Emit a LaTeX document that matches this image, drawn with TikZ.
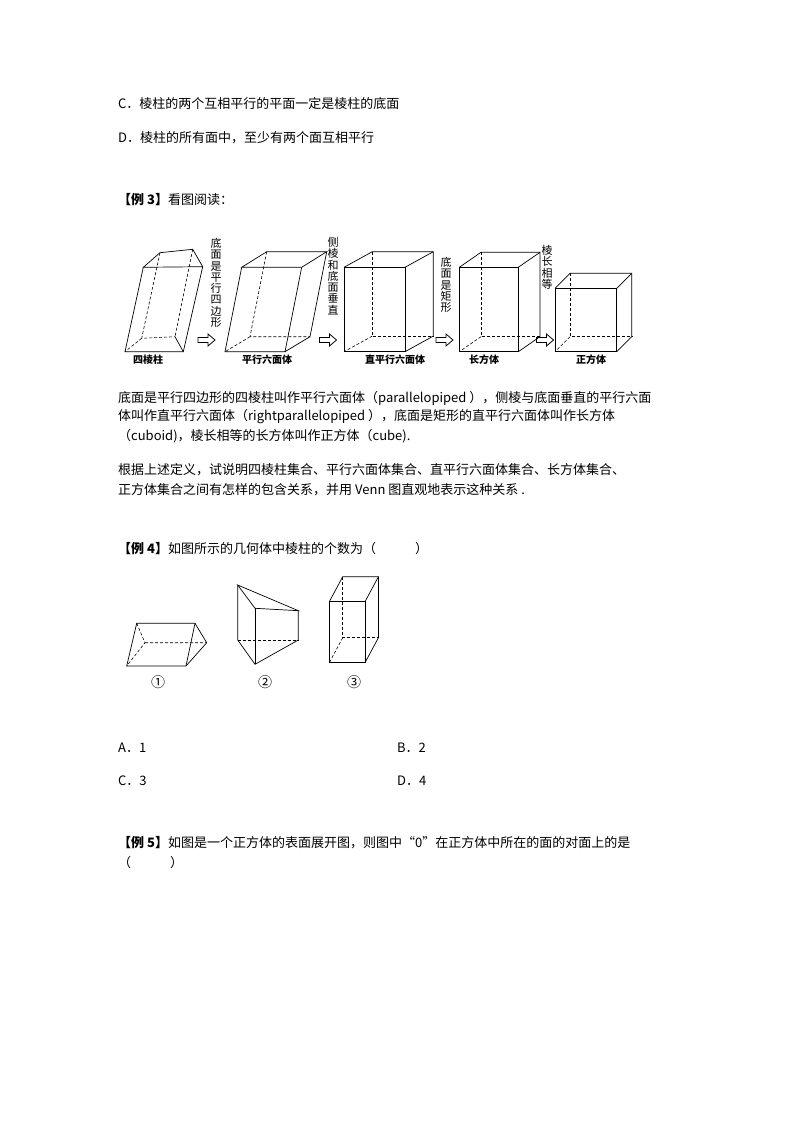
\documentclass[tikz,border=0pt]{standalone}
\usepackage{fontspec}
\setmainfont{Liberation Sans}
\newfontfamily\cjk{Noto Sans CJK SC}
\usetikzlibrary{calc}
\tikzset{
 txt/.style={anchor=west,inner sep=0pt,font=\cjk\fontsize{13}{14}\selectfont},
 vtxt/.style={inner sep=0pt,align=center,font=\cjk\fontsize{11}{11.3}\selectfont,text width=14pt},
 lab/.style={inner sep=0pt,font=\cjk\bfseries\fontsize{10}{11}\selectfont},
 ed/.style={line width=0.7pt},
 hid/.style={line width=0.6pt,dash pattern=on 3pt off 2pt},
}
\newcommand{\harrow}[2]{% left x, center y
 \draw[line width=0.8pt] (#1,#2-2.5) -- ++(10,0) -- ++(0,-3.5) -- ++(7,6) -- ++(-7,6) -- ++(0,-3.5) -- ++(-10,0) -- cycle;}
\newcommand{\boxsolid}[6]{% x1 y1 x2 y2 dx dy
 \draw[ed] (#1,#2) rectangle (#3,#4);
 \draw[ed] (#1,#2) -- ++(#5,#6) -- ($(#3,#2)+(#5,#6)$) -- ($(#3,#4)+(#5,#6)$) -- (#3,#4);
 \draw[ed] (#3,#2) -- ++(#5,#6);
 \draw[hid] ($(#1,#2)+(#5,#6)$) -- ($(#1,#4)+(#5,#6)$) -- ($(#3,#4)+(#5,#6)$);
 \draw[hid] ($(#1,#4)+(#5,#6)$) -- (#1,#4);
}
\begin{document}
\begin{tikzpicture}[x=1pt,y=-1pt]
\useasboundingbox (0,0) rectangle (794,1123);
\node[txt] (c) at (118,104) {C．棱柱的两个互相平行的平面一定是棱柱的底面};
\node[txt] (d) at (118,138) {D．棱柱的所有面中，至少有两个面互相平行};
\node[txt] (e3) at (118,200) {\textbf{【例 3】}看图阅读：};
% fig 1
\draw[ed] (143.3,267.3) -- (202.7,266.7) -- (192.7,249.3) -- (160,252.7) -- cycle;
\draw[ed] (143.3,267.3) -- (125,351.7) -- (183.3,351.7) -- (202.7,266.7);
\draw[hid] (160,252.7) -- (141.7,338.3) -- (175,336.7) (141.7,338.3) -- (125,351.7);
\draw[hid] (192.7,249.3) -- (175,336.7);
\draw[ed] (175,336.7) -- (183.3,351.7);
% fig 2
\draw[ed] (241.7,267.3) -- (301.7,267.3) -- (326.7,251.7) -- (266.7,251.7) -- cycle;
\draw[ed] (241.7,267.3) -- (225,351.7) -- (285,351.7) -- (301.7,267.3);
\draw[ed] (326.7,251.7) -- (310,336.7) -- (285,351.7);
\draw[hid] (266.7,251.7) -- (250,336.7) -- (310,336.7) (250,336.7) -- (225,351.7);
% fig 3-5
\boxsolid{344}{267.3}{405}{351.7}{28.3}{-15.6}
\boxsolid{459.3}{267.3}{518.3}{351.7}{21.7}{-15}
\boxsolid{555}{288.3}{616.7}{351.7}{15}{-15}
% arrows
\harrow{198}{340}
\harrow{319.5}{340}
\harrow{436}{340}
\harrow{536.5}{340}
\node[vtxt,anchor=north] (v1) at (216,238) {底\\面\\是\\平\\行\\四\\边\\形};
\node[vtxt,anchor=north] (v2) at (333,237) {侧\\棱\\和\\底\\面\\垂\\直};
\node[vtxt,anchor=north] (v3) at (446,257) {底\\面\\是\\矩\\形};
\node[vtxt,anchor=north] (v4) at (547,245) {棱\\长\\相\\等};
\node[lab] (l1) at (148,360) {四棱柱};
\node[lab] (l2) at (267,360) {平行六面体};
\node[lab] (l3) at (395,360) {直平行六面体};
\node[lab] (l4) at (484,360) {长方体};
\node[lab] (l5) at (591,360) {正方体};
% paragraph
\node[txt] (p1) at (118,398) {底面是平行四边形的四棱柱叫作平行六面体（parallelopiped ），侧棱与底面垂直的平行六面};
\node[txt] (p2) at (118,417) {体叫作直平行六面体（rightparallelopiped ），底面是矩形的直平行六面体叫作长方体};
\node[txt] (p3) at (118,436) {（cuboid)，棱长相等的长方体叫作正方体（cube).};
\node[txt] (p4) at (118,470) {根据上述定义，试说明四棱柱集合、平行六面体集合、直平行六面体集合、长方体集合、};
\node[txt] (p5) at (118,490) {正方体集合之间有怎样的包含关系，并用 Venn 图直观地表示这种关系 .};
\node[txt] (e4) at (118,549) {\textbf{【例 4】}如图所示的几何体中棱柱的个数为（　　　）};
% ex4 fig1
\draw[ed] (136.7,623.3) -- (195,623.3) -- (206.7,642.7) -- (186,666) -- (126.7,666) -- cycle;
\draw[ed] (195,623.3) -- (186,666);
\draw[hid] (136.7,623.3) -- (145,642.7) -- (126.7,666) (145,642.7) -- (206.7,642.7);
% fig2
\draw[ed] (237.7,585) -- (255,608.3) -- (298.3,610.7) -- cycle;
\draw[ed] (237.7,585) -- (237.7,640) -- (255,664.3) -- (298.3,640) -- (298.3,610.7);
\draw[ed] (255,608.3) -- (255,664.3);
\draw[hid] (237.7,640) -- (298.3,640);
% fig3
\boxsolid{329.3}{601.7}{365}{662.7}{13.4}{-25}
\node[inner sep=0pt,font=\cjk\fontsize{14}{14}\selectfont] (n1) at (158,682) {①};
\node[inner sep=0pt,font=\cjk\fontsize{14}{14}\selectfont] (n2) at (265,682) {②};
\node[inner sep=0pt,font=\cjk\fontsize{14}{14}\selectfont] (n3) at (354,682) {③};
\node[txt] (oa) at (118,748) {A．1};
\node[txt] (ob) at (397,748) {B．2};
\node[txt] (oc) at (118,781) {C．3};
\node[txt] (od) at (397,781) {D．4};
\node[txt] (e5) at (118,843) {\textbf{【例 5】}如图是一个正方体的表面展开图，则图中“0”在正方体中所在的面的对面上的是};
\node[txt] (e5b) at (118,863) {（　　　）};
\end{tikzpicture}
\end{document}
